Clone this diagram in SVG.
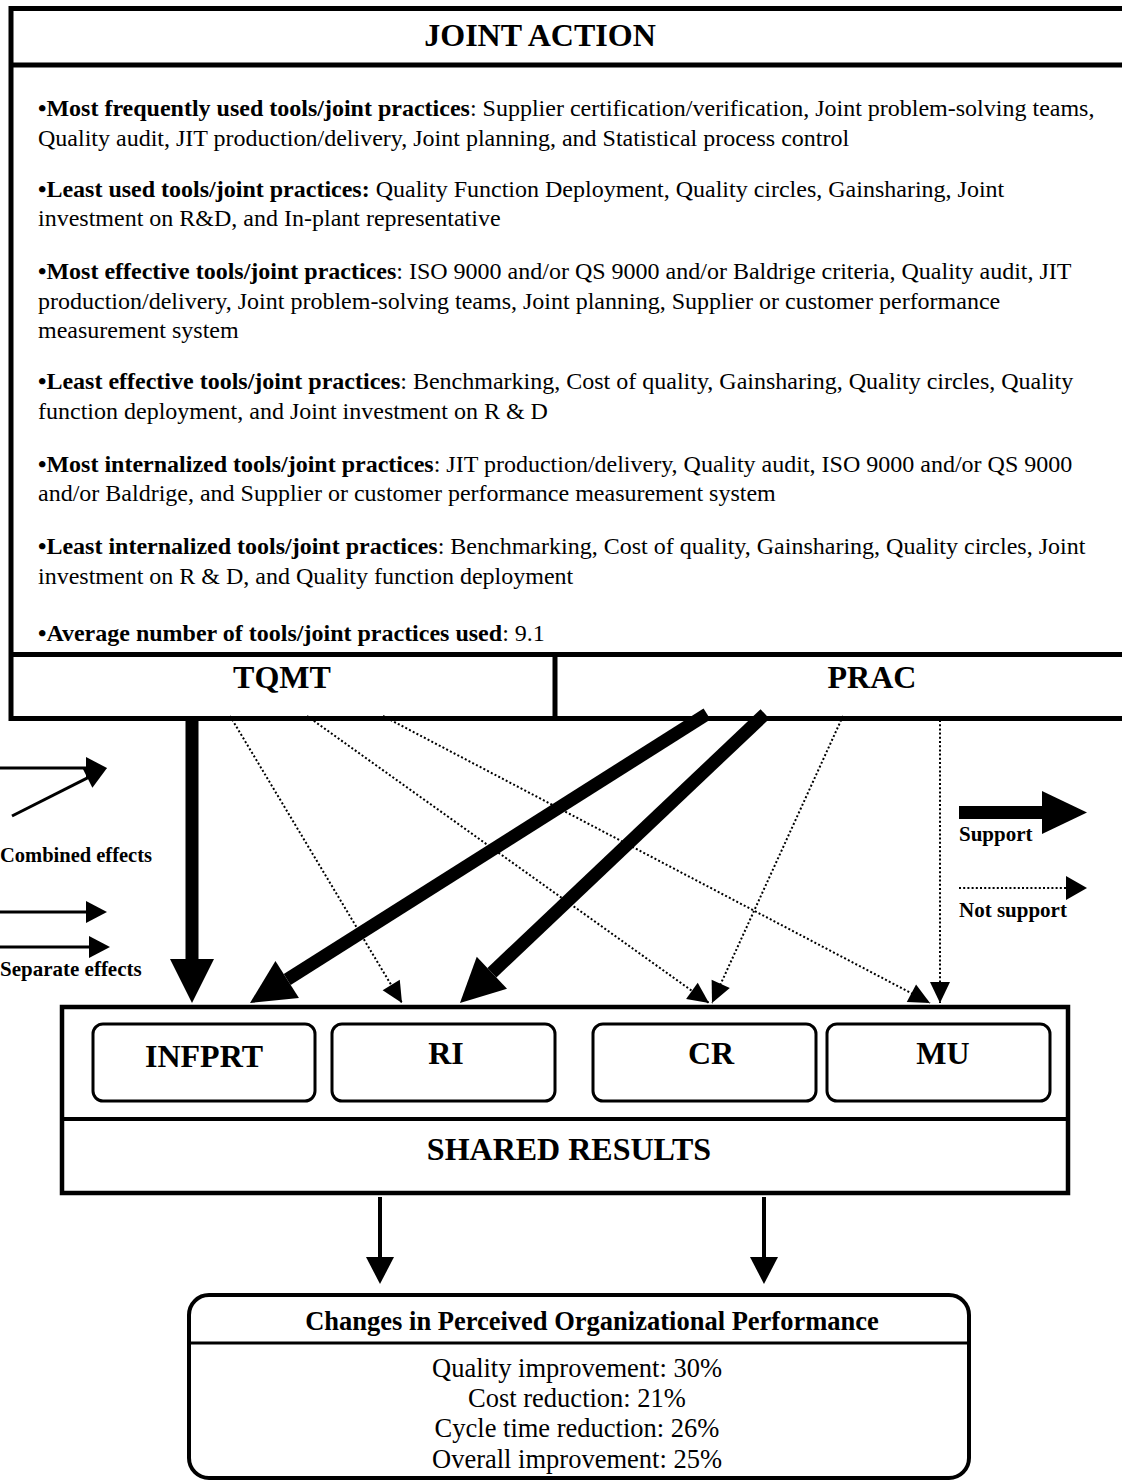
<svg xmlns="http://www.w3.org/2000/svg" width="1122" height="1480" viewBox="0 0 1122 1480">
  <style>
    text { font-family: "Liberation Serif", "Times New Roman", serif; fill: #000; }
    .b { font-weight: bold; }
    .body { font-size: 24px; }
    .head { font-size: 32px; font-weight: bold; text-anchor: middle; }
    .legend { font-size: 21px; font-weight: bold; }
    .frame { fill: none; stroke: #000; stroke-width: 5; }
    .box { fill: #fff; stroke: #000; stroke-width: 3; }
    .thick { stroke: #000; stroke-width: 13; fill: none; }
    .thin { stroke: #000; stroke-width: 3; fill: none; }
    .dot { stroke: #000; stroke-width: 2; stroke-dasharray: 2 2.2; fill: none; }
    .perf { font-size: 26.5px; text-anchor: middle; }
  </style>
  <defs>
    <marker id="bigHead" markerUnits="userSpaceOnUse" markerWidth="46" markerHeight="46" refX="0" refY="22" orient="auto" overflow="visible">
      <path d="M0,0 L44,22 L0,44 Z" fill="#000"/>
    </marker>
    <marker id="smallHead" markerUnits="userSpaceOnUse" markerWidth="22" markerHeight="22" refX="21" refY="10" orient="auto" overflow="visible">
      <path d="M0,0 L21,10 L0,20 Z" fill="#000"/>
    </marker>
  </defs>

  <rect width="1122" height="1480" fill="#fff"/>

  <!-- Joint action panel -->
  <g id="joint-action">
    <path class="frame" d="M1130,8.5 H11 V718.5 H1130"/>
    <line x1="11" y1="65" x2="1130" y2="65" stroke="#000" stroke-width="5"/>
    <text class="head" x="540" y="46">JOINT ACTION</text>
    <g class="body">
      <text x="38" y="116"><tspan class="b">•Most frequently used tools/joint practices</tspan>: Supplier certification/verification, Joint problem-solving teams,</text>
      <text x="38" y="146">Quality audit, JIT production/delivery, Joint planning, and Statistical process control</text>
      <text x="38" y="197"><tspan class="b">•Least used tools/joint practices:</tspan> Quality Function Deployment, Quality circles, Gainsharing, Joint</text>
      <text x="38" y="226">investment on R&amp;D, and In-plant representative</text>
      <text x="38" y="279"><tspan class="b">•Most effective tools/joint practices</tspan>: ISO 9000 and/or QS 9000 and/or Baldrige criteria, Quality audit, JIT</text>
      <text x="38" y="309">production/delivery, Joint problem-solving teams, Joint planning, Supplier or customer performance</text>
      <text x="38" y="338">measurement system</text>
      <text x="38" y="389"><tspan class="b">•Least effective tools/joint practices</tspan>: Benchmarking, Cost of quality, Gainsharing, Quality circles, Quality</text>
      <text x="38" y="419">function deployment, and Joint investment on R &amp; D</text>
      <text x="38" y="472"><tspan class="b">•Most internalized tools/joint practices</tspan>: JIT production/delivery, Quality audit, ISO 9000 and/or QS 9000</text>
      <text x="38" y="501">and/or Baldrige, and Supplier or customer performance measurement system</text>
      <text x="38" y="554"><tspan class="b">•Least internalized tools/joint practices</tspan>: Benchmarking, Cost of quality, Gainsharing, Quality circles, Joint</text>
      <text x="38" y="584">investment on R &amp; D, and Quality function deployment</text>
      <text x="38" y="641"><tspan class="b">•Average number of tools/joint practices used</tspan>: 9.1</text>
    </g>
  </g>

  <g id="tqmt">
    <line x1="11" y1="654.5" x2="1130" y2="654.5" stroke="#000" stroke-width="5"/>
    <text class="head" x="282" y="688">TQMT</text>
  </g>
  <g id="prac">
    <line x1="555" y1="654" x2="555" y2="719" stroke="#000" stroke-width="5"/>
    <text class="head" x="872" y="688">PRAC</text>
  </g>

  <!-- Shared results panel with its four measures -->
  <g id="shared-results">
    <rect x="62" y="1007" width="1006" height="186" fill="none" stroke="#000" stroke-width="4.5"/>
    <line x1="62" y1="1119" x2="1068" y2="1119" stroke="#000" stroke-width="4"/>
    <text class="head" x="569" y="1160">SHARED RESULTS</text>
  </g>
  <g id="infprt">
    <rect class="box" x="93" y="1024" width="222" height="77" rx="10"/>
    <text class="head" x="204" y="1067">INFPRT</text>
  </g>
  <g id="ri">
    <rect class="box" x="332" y="1024" width="223" height="77" rx="10"/>
    <text class="head" x="446" y="1064">RI</text>
  </g>
  <g id="cr">
    <rect class="box" x="593" y="1024" width="223" height="77" rx="10"/>
    <text class="head" x="711" y="1064">CR</text>
  </g>
  <g id="mu">
    <rect class="box" x="827" y="1024" width="223" height="77" rx="10"/>
    <text class="head" x="943" y="1064">MU</text>
  </g>

  <!-- Organizational performance outcome -->
  <g id="performance">
    <rect x="189" y="1295" width="780" height="183" rx="20" fill="none" stroke="#000" stroke-width="4"/>
    <line x1="189" y1="1343" x2="969" y2="1343" stroke="#000" stroke-width="3"/>
    <text class="perf b" x="592" y="1330">Changes in Perceived Organizational Performance</text>
    <text class="perf" x="577" y="1377">Quality improvement: 30%</text>
    <text class="perf" x="577" y="1407">Cost reduction: 21%</text>
    <text class="perf" x="577" y="1437">Cycle time reduction: 26%</text>
    <text class="perf" x="577" y="1468">Overall improvement: 25%</text>
  </g>

  <!-- Connectors -->
  <g id="connectors">
    <!-- supported effects -->
    <line class="thick" x1="192" y1="716" x2="192" y2="959" marker-end="url(#bigHead)"/>
    <line class="thick" x1="707" y1="714" x2="287.2" y2="979.5" marker-end="url(#bigHead)"/>
    <line class="thick" x1="765" y1="714" x2="491.9" y2="972.7" marker-end="url(#bigHead)"/>
    <!-- unsupported effects -->
    <line class="dot" x1="230" y1="716" x2="402" y2="1003" marker-end="url(#smallHead)"/>
    <line class="dot" x1="307" y1="716" x2="709" y2="1003" marker-end="url(#smallHead)"/>
    <line class="dot" x1="383" y1="716" x2="930" y2="1003" marker-end="url(#smallHead)"/>
    <line class="dot" x1="843" y1="716" x2="712" y2="1003" marker-end="url(#smallHead)"/>
    <line class="dot" x1="940" y1="720" x2="940" y2="1003" marker-end="url(#smallHead)"/>
    <!-- shared results to performance -->
    <line x1="380" y1="1197" x2="380" y2="1258" stroke="#000" stroke-width="4"/>
    <polygon points="366,1257 394,1257 380,1284"/>
    <line x1="764" y1="1197" x2="764" y2="1258" stroke="#000" stroke-width="4"/>
    <polygon points="750,1257 778,1257 764,1284"/>
  </g>

  <!-- Legend: combined / separate effects -->
  <g id="legend-effects">
    <line class="thin" x1="-2" y1="768" x2="88" y2="768"/>
    <polygon points="86,757 107,768 86,779"/>
    <line class="thin" x1="12" y1="816" x2="90" y2="776.6"/>
    <polygon points="92.4,787.7 107,768 82.4,768.1"/>
    <text class="legend" x="0" y="862" style="font-size:20.5px">Combined effects</text>
    <line class="thin" x1="-2" y1="912" x2="88" y2="912"/>
    <polygon points="86,901 107,912 86,923"/>
    <line class="thin" x1="-2" y1="947" x2="90" y2="947"/>
    <polygon points="89,936 110,947 89,958"/>
    <text class="legend" x="0" y="976">Separate effects</text>
  </g>

  <!-- Legend: support / not support -->
  <g id="legend-support">
    <rect x="959" y="806" width="84" height="13"/>
    <polygon points="1042,791 1087,812.5 1042,834"/>
    <text class="legend" x="959" y="841">Support</text>
    <line class="dot" x1="959" y1="888" x2="1066" y2="888"/>
    <polygon points="1066,876 1087,888 1066,900"/>
    <text class="legend" x="959" y="917">Not support</text>
  </g>
</svg>
